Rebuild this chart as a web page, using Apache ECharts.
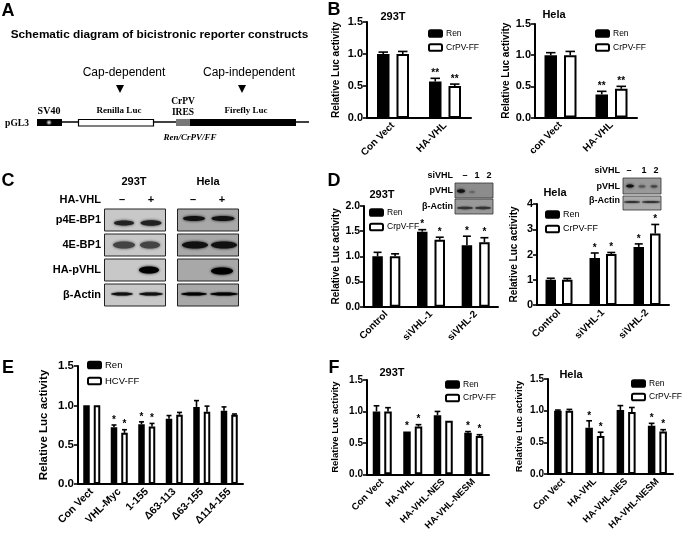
<!DOCTYPE html>
<html><head><meta charset="utf-8">
<style>html,body{margin:0;padding:0;background:#fff}#c{width:683px;height:533px;filter:blur(0.35px)}</style>
<script src="https://cdn.jsdelivr.net/npm/echarts@6/dist/echarts.min.js"></script>
</head><body><div id="c"></div>
<script>
// ---- data ----
const bLeftCats = ['Con Vect','HA-VHL'];
const bLeftRen = [1.0,0.57];
const bLeftFF = [1.0,0.50];
const bLeftRenErr = [0.03,0.05];
const bLeftFFErr = [0.04,0.03];
const bLeftRenSig = ['','**'];
const bLeftFFSig = ['','**'];

const bRightCats = ['con Vect','HA-VHL'];
const bRightRen = [1.0,0.37];
const bRightFF = [1.0,0.46];
const bRightRenErr = [0.04,0.05];
const bRightFFErr = [0.06,0.04];
const bRightRenSig = ['','**'];
const bRightFFSig = ['','**'];

const dLeftCats = ['Control','siVHL-1','siVHL-2'];
const dLeftRen = [1.0,1.49,1.22];
const dLeftFF = [1.0,1.33,1.28];
const dLeftRenErr = [0.08,0.04,0.18];
const dLeftFFErr = [0.05,0.05,0.09];
const dLeftRenSig = ['','*','*'];
const dLeftFFSig = ['','*','*'];

const dRightCats = ['Control','siVHL-1','siVHL-2'];
const dRightRen = [1.0,1.86,2.3];
const dRightFF = [1.0,2.02,2.83];
const dRightRenErr = [0.06,0.2,0.12];
const dRightFFErr = [0.05,0.06,0.36];
const dRightRenSig = ['','*','*'];
const dRightFFSig = ['','*','*'];

const eCats = ['Con Vect','VHL-Myc','1-155','Δ63-113','Δ63-155','Δ114-155'];
const eRen = [1.0,0.72,0.76,0.83,0.98,0.93];
const eFF = [1.0,0.65,0.73,0.88,0.92,0.88];
const eRenErr = [0,0.03,0.03,0.04,0.08,0.05];
const eFFErr = [0,0.04,0.04,0.03,0.07,0.01];
const eRenSig = ['','*','*','','',''];
const eFFSig = ['','*','*','','',''];

const fLeftCats = ['Con Vect','HA-VHL','HA-VHL-NES','HA-VHL-NESM'];
const fLeftRen = [1.0,0.68,0.94,0.66];
const fLeftFF = [1.0,0.76,0.85,0.61];
const fLeftRenErr = [0.09,0.0,0.06,0.02];
const fLeftFFErr = [0.06,0.03,0.0,0.02];
const fLeftRenSig = ['','*','','*'];
const fLeftFFSig = ['','*','','*'];

const fRightCats = ['Con Vect','HA-VHL','HA-VHL-NES','HA-VHL-NESM'];
const fRightRen = [1.0,0.73,1.01,0.76];
const fRightFF = [1.0,0.60,0.98,0.67];
const fRightRenErr = [0.01,0.11,0.07,0.04];
const fRightFFErr = [0.02,0.06,0.07,0.03];
const fRightRenSig = ['','*','','*'];
const fRightFFSig = ['','*','','*'];

// ---- panels ----
const SANS = '"Liberation Sans",Arial,sans-serif';
const SERIF = '"Liberation Serif","Times New Roman",serif';
const BORDER = 2;
const panels = [
 {cats:bLeftCats,ren:bLeftRen,ff:bLeftFF,re:bLeftRenErr,fe:bLeftFFErr,rs:bLeftRenSig,fs:bLeftFFSig,ffName:'CrPV-FF',
  l:367,t:22,w:104,h:96,max:1.5,iv:0.5,bw:12.5,gap:5,gapN:26,nameSize:10,title:'293T',tx:393,ty:17,lx:428,ly:29,lg:5,lf:8.5,tick:11,cat:10,fmt:1},
 {cats:bRightCats,ren:bRightRen,ff:bRightFF,re:bRightRenErr,fe:bRightFFErr,rs:bRightRenSig,fs:bRightFFSig,ffName:'CrPV-FF',
  l:535,t:24,w:102,h:93.5,max:1.5,iv:0.5,bw:12.5,gap:5,gapN:24,nameSize:10,title:'Hela',tx:554,ty:15,lx:595,ly:29,lg:5,lf:8.5,tick:11,cat:10,fmt:1},
 {cats:dLeftCats,ren:dLeftRen,ff:dLeftFF,re:dLeftRenErr,fe:dLeftFFErr,rs:dLeftRenSig,fs:dLeftFFSig,ffName:'CrpV-FF',
  l:364,t:206,w:134,h:100.7,max:2,iv:0.5,bw:10.5,gap:5,gapN:23,nameSize:10,title:'293T',tx:382,ty:195,lx:369,ly:208,lg:5.5,lf:8.5,tick:10.5,cat:10,fmt:1},
 {cats:dRightCats,ren:dRightRen,ff:dRightFF,re:dRightRenErr,fe:dRightFFErr,rs:dRightRenSig,fs:dRightFFSig,ffName:'CrPV-FF',
  l:537,t:204,w:132,h:101,max:4,iv:1,bw:10.5,gap:4,gapN:18,nameSize:10,title:'Hela',tx:555,ty:193,lx:545,ly:210,lg:5.5,lf:9,tick:11,cat:10,fmt:0},
 {cats:eCats,ren:eRen,ff:eFF,re:eRenErr,fe:eFFErr,rs:eRenSig,fs:eFFSig,ffName:'HCV-FF',
  l:78,t:366,w:165,h:118,max:1.5,iv:0.5,bw:6.5,gap:2,gapN:28,nameSize:11.5,title:'',lx:87,ly:360,lg:6,lf:9.5,tick:11.5,cat:10.5,fmt:1},
 {cats:fLeftCats,ren:fLeftRen,ff:fLeftFF,re:fLeftRenErr,fe:fLeftFFErr,rs:fLeftRenSig,fs:fLeftFFSig,ffName:'CrPV-FF',
  l:367,t:380,w:122,h:96,max:1.5,iv:0.5,bw:7.5,gap:2,gapN:27,nameSize:9.5,title:'293T',tx:392,ty:373,lx:445,ly:380,lg:4.5,lf:8.5,tick:10,cat:9.5,fmt:1},
 {cats:fRightCats,ren:fRightRen,ff:fRightFF,re:fRightRenErr,fe:fRightFFErr,rs:fRightRenSig,fs:fRightFFSig,ffName:'CrPV-FF',
  l:548,t:379,w:125,h:95,max:1.5,iv:0.5,bw:7.5,gap:2,gapN:24,nameSize:9.5,title:'Hela',tx:571,ty:375,lx:631,ly:379,lg:4.5,lf:8.5,tick:10,cat:9.5,fmt:1}
];

const grid=[],xAxis=[],yAxis=[],series=[],legend=[],title=[];
function errSeries(i,vals,errs,sigs,side,p){
  return {type:'custom',xAxisIndex:i,yAxisIndex:i,z:5,silent:true,
    data:vals.map((v,k)=>[k,v,errs[k]]),
    encode:{x:0,y:1},
    renderItem(params,api){
      const cat=api.value(0),v=api.value(1),e=api.value(2);
      const off=side*(p.bw+BORDER+p.gap)/2;
      const base=api.coord([cat,v]), top=api.coord([cat,v+e]);
      const x=base[0]+off, cap=p.bw*0.38, kids=[];
      if(e>0){
        kids.push({type:'line',shape:{x1:x,y1:base[1],x2:x,y2:top[1]},style:{stroke:'#000',lineWidth:1.6}});
        kids.push({type:'line',shape:{x1:x-cap,y1:top[1],x2:x+cap,y2:top[1]},style:{stroke:'#000',lineWidth:1.6}});
      }
      const s=sigs[params.dataIndex];
      if(s) kids.push({type:'text',style:{text:s,x:x,y:top[1]-5,align:'center',verticalAlign:'middle',
        font:'bold 10px '+SANS,fill:'#000'}});
      return {type:'group',children:kids};
    }};
}
panels.forEach((p,i)=>{
  grid.push({left:p.l,top:p.t,width:p.w,height:p.h,containLabel:false});
  xAxis.push({type:'category',gridIndex:i,data:p.cats,
    axisLine:{lineStyle:{color:'#000',width:2}},
    axisTick:{alignWithLabel:true,length:3.5,lineStyle:{color:'#000',width:1.6}},
    axisLabel:{rotate:45,interval:0,margin:6,color:'#000',fontFamily:SANS,fontWeight:'bold',fontSize:p.cat}});
  yAxis.push({type:'value',gridIndex:i,min:0,max:p.max,interval:p.iv,
    name:'Relative Luc activity',nameLocation:'middle',nameGap:p.gapN,
    nameTextStyle:{color:'#000',fontFamily:SANS,fontWeight:'bold',fontSize:p.nameSize},
    axisLine:{show:true,lineStyle:{color:'#000',width:2}},
    axisTick:{show:true,length:4,lineStyle:{color:'#000',width:1.6}},
    splitLine:{show:false},
    axisLabel:{margin:4,color:'#000',fontFamily:SANS,fontWeight:'bold',fontSize:p.tick,
      formatter:v=>v.toFixed(p.fmt)}});
  series.push({type:'bar',name:'Ren',xAxisIndex:i,yAxisIndex:i,data:p.ren,barWidth:p.bw,
    barGap:((p.gap+BORDER)/p.bw*100)+'%',itemStyle:{color:'#000',borderColor:'#000',borderWidth:BORDER}});
  series.push({type:'bar',name:p.ffName,xAxisIndex:i,yAxisIndex:i,data:p.ff,barWidth:p.bw,
    itemStyle:{color:'#fff',borderColor:'#000',borderWidth:BORDER}});
  series.push(errSeries(i,p.ren,p.re,p.rs,-1,p));
  series.push(errSeries(i,p.ff,p.fe,p.fs,1,p));
  legend.push({orient:'vertical',left:p.lx,top:p.ly,padding:0,itemWidth:13,itemHeight:6.5,itemGap:p.lg,
    data:['Ren',p.ffName],selectedMode:false,
    textStyle:{color:'#000',fontFamily:SANS,fontSize:p.lf,padding:[0,0,0,-1]}});
  if(p.title) title.push({text:p.title,left:p.tx,top:p.ty,padding:0,textAlign:'center',textVerticalAlign:'middle',
    textStyle:{color:'#000',fontFamily:SANS,fontWeight:'bold',fontSize:11}});
});

// ---- schematic, blots, labels ----
const g=[];
function T(text,x,y,o={}){g.push({type:'text',silent:true,z:10,style:{text,x,y,align:o.a||'center',verticalAlign:'middle',
  font:(o.i?'italic ':'')+(o.w||'bold')+' '+(o.s||10)+'px '+(o.f||SANS),fill:'#000'}});}
function R(x,y,w,h,fill,st,lw){g.push({type:'rect',silent:true,z:9,shape:{x,y,width:w,height:h},style:{fill,stroke:st||null,lineWidth:lw||0}});}
function L(x1,x2,y,lw){g.push({type:'line',silent:true,z:8,shape:{x1,y1:y,x2,y2:y},style:{stroke:'#000',lineWidth:lw||1.5}});}
function Band(cx,cy,rx,ry,c,blur){g.push({type:'ellipse',silent:true,z:10,shape:{cx,cy,rx,ry},
  style:{fill:c||'#111',shadowColor:c||'#111',shadowBlur:blur==null?3:blur}});}
function Tri(cx,cy){g.push({type:'polygon',silent:true,z:9,shape:{points:[[cx-4,cy-4],[cx+4,cy-4],[cx,cy+4]]},style:{fill:'#000'}});}

[['A',8,11],['B',334,10],['C',8,181],['D',334,181],['E',8,368],['F',334,368]].forEach(a=>T(a[0],a[1],a[2],{s:18}));

// A
T('Schematic diagram of bicistronic reporter constructs',159.5,35,{s:11.8});
T('Cap-dependent',124,73,{w:'normal',s:12});
T('Cap-independent',249,73,{w:'normal',s:12});
Tri(120,89);Tri(242,89);
L(62,309,122,1.5);
R(37,119,25,7,'#000');
g.push({type:'ellipse',silent:true,z:10,shape:{cx:49,cy:122.5,rx:3.5,ry:3},style:{fill:{type:'radial',x:.5,y:.5,r:.5,colorStops:[{offset:0,color:'#fff'},{offset:1,color:'#000'}]}}});
R(78.5,119.5,75,6.5,'#fff','#000',1.2);
R(176,119,14,7,'#777');
R(190,119,106,7,'#000');
T('SV40',49,111,{f:SERIF,s:10});
T('Renilla Luc',119,111,{f:SERIF,s:9});
T('CrPV',183,102,{f:SERIF,s:9.5});
T('IRES',183,113,{f:SERIF,s:9.5});
T('Firefly Luc',246,111,{f:SERIF,s:9});
T('pGL3',17,124,{f:SERIF,s:9.5});
T('Ren/CrPV/FF',190,138,{f:SERIF,s:9,i:true});

// C
T('293T',134,182,{s:11});T('Hela',208,182,{s:11});
T('HA-VHL',101,200,{a:'right',s:11});
[[122,'–'],[151,'+'],[193,'–'],[222,'+']].forEach(a=>T(a[1],a[0],200,{s:11}));
const rows=[[209,22,'p4E-BP1'],[234,22,'4E-BP1'],[259,22,'HA-pVHL'],[284,22,'β-Actin']];
rows.forEach(r=>{
  R(104.5,r[0],61,r[1],'#c8c8c8','#222',1);
  R(177.5,r[0],61,r[1],'#a8a8a8','#222',1);
  T(r[2],101,r[0]+11,{a:'right',s:11});
});
Band(124,223,10,2.5,'#222');Band(151,223,10.5,2.8,'#222');
Band(194,218.5,11,2.5,'#111');Band(223,218.5,11.5,2.5,'#111');
Band(124,245,11,3.5,'#444');Band(150,245,10,3.5,'#444');
Band(195,245,13,3.5,'#111');Band(224,245,13,3.5,'#111');
Band(149,270,10,3.5,'#000');
Band(222,271,11,3.5,'#000');
Band(122,294,11,1.5,'#111',2);Band(151,294,12,1.5,'#111',2);
Band(194,294,13,1.5,'#000',2);Band(224,294,14,1.5,'#000',2);

// D insets
T('siVHL',453,176,{a:'right',s:9});
[[465,'–'],[477,'1'],[489,'2']].forEach(a=>T(a[1],a[0],176,{s:9}));
T('pVHL',453,191,{a:'right',s:9});T('β-Actin',453,207,{a:'right',s:9});
R(455,183,38,15,'#8c8c8c','#333',.8);R(455,199,38,15,'#999','#333',.8);
Band(461,191,4,1.8,'#111');Band(472,192,3,1,'#666');
Band(465,208,8,1.2,'#333',2);Band(483,208,8,1.2,'#333',2);

T('siVHL',620,171,{a:'right',s:9});
[[629,'–'],[644,'1'],[656,'2']].forEach(a=>T(a[1],a[0],171,{s:9}));
T('pVHL',620,187,{a:'right',s:9});T('β-Actin',620,201,{a:'right',s:9});
R(623,178,38,16,'#999','#333',.8);R(623,196,38,14,'#aaa','#333',.8);
Band(630,186,4,1.5,'#111');Band(642,186.5,3.5,1.2,'#555');Band(654,186.5,3.5,1.2,'#444');
Band(632,202,8,1,'#333',2);Band(651,202,9,1,'#333',2);

const chart=echarts.init(document.getElementById('c'),null,{renderer:'canvas'});
chart.setOption({animation:false,backgroundColor:'#fff',title,legend,grid,xAxis,yAxis,series,graphic:{elements:g}});
</script></body></html>
